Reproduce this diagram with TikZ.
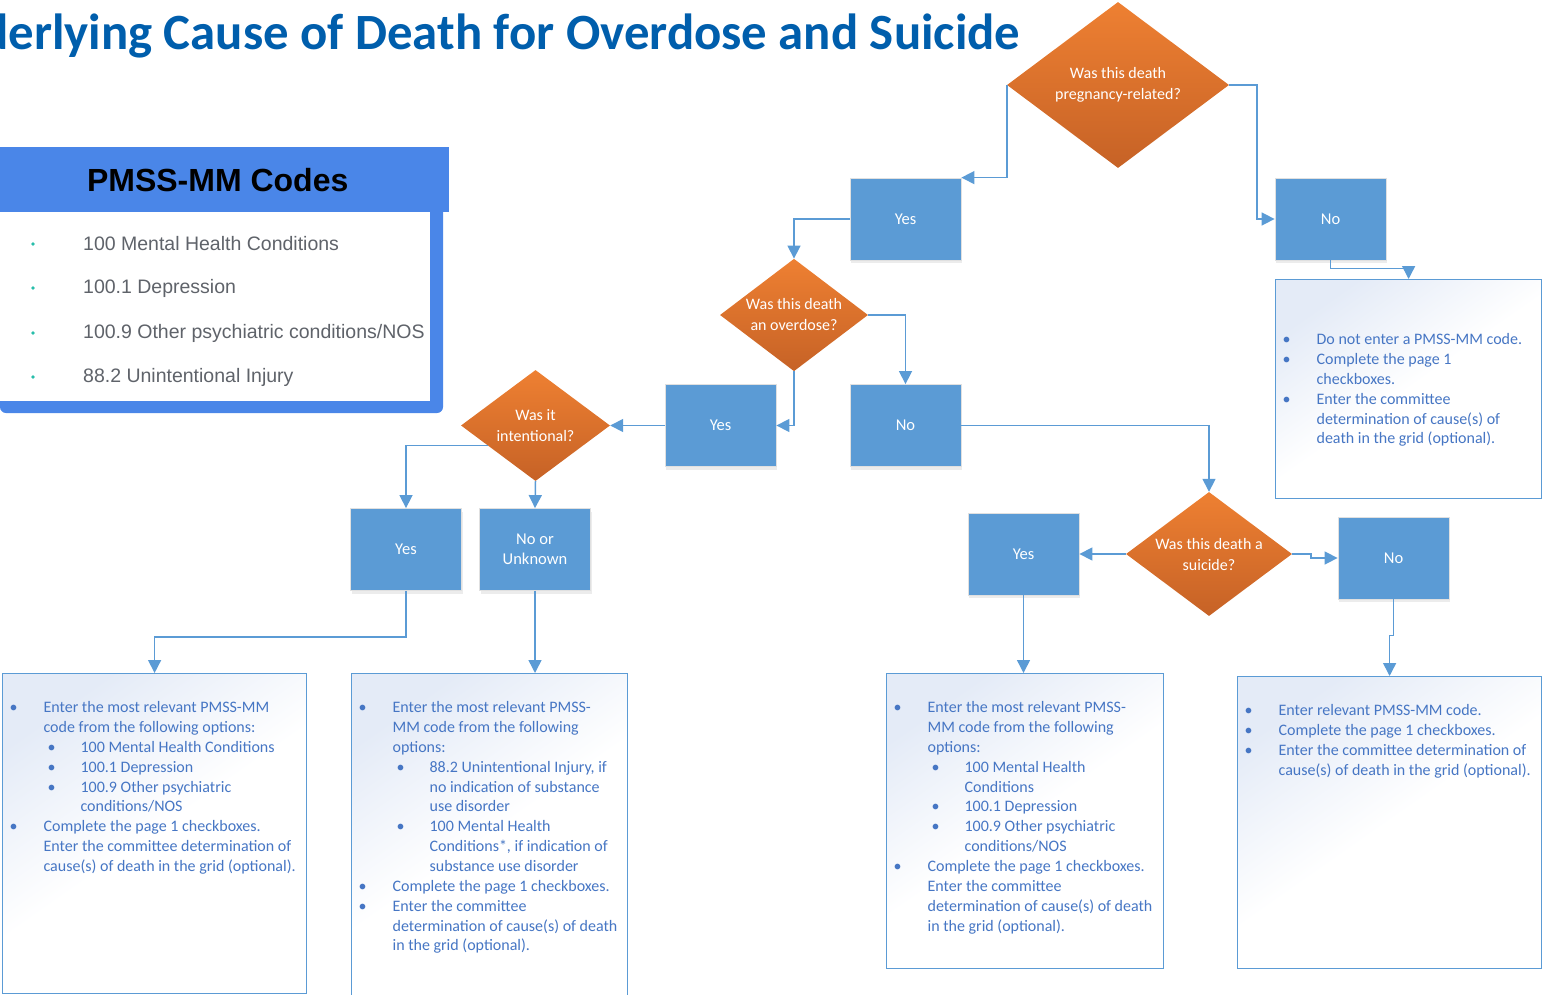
\documentclass[tikz,border=0pt]{standalone}
\usepackage{fontspec}
\setmainfont{Carlito}
\newfontfamily\arialfont{Liberation Sans}
\usetikzlibrary{shapes.geometric,arrows.meta,shadows,calc}

\definecolor{boxblue}{RGB}{91,155,213}
\definecolor{orangeA}{RGB}{238,128,50}
\definecolor{orangeB}{RGB}{198,98,38}
\definecolor{infotext}{RGB}{70,118,196}
\definecolor{infofill}{RGB}{228,235,247}
\definecolor{codesblue}{RGB}{74,134,232}
\definecolor{codesgray}{RGB}{95,99,106}
\definecolor{codesteal}{RGB}{40,190,170}
\definecolor{titleblue}{RGB}{0,94,172}

% lineas de las cajas de texto
\newcommand{\bul}[1]{\hbox to\hsize{\hspace*{7pt}\makebox[34pt][l]{\textbullet}#1\hss}}
\newcommand{\cont}[1]{\hbox to\hsize{\hspace*{41pt}#1\hss}}
\newcommand{\subbul}[1]{\hbox to\hsize{\hspace*{45pt}\makebox[33pt][l]{\textbullet}#1\hss}}
\newcommand{\subcont}[1]{\hbox to\hsize{\hspace*{78pt}#1\hss}}

\tikzset{
  answer/.style={rectangle, fill=boxblue, draw=black!12, line width=0.8pt,
    minimum width=111pt, minimum height=82pt, inner sep=0pt, text=white,
    align=center, font=\fontsize{16.5}{20}\selectfont,
    drop shadow={opacity=0.15, shadow xshift=1pt, shadow yshift=-3pt}},
  question/.style={diamond, top color=orangeA, bottom color=orangeB, inner sep=-4pt,
    text=white, align=center, font=\fontsize{16}{21}\selectfont},
  info/.style={rectangle, draw=boxblue, line width=1.2pt, top color=infofill,
    bottom color=white, middle color=white, shading angle=35, anchor=north west,
    inner sep=0pt, text=infotext, font=\fontsize{16}{19.85}\selectfont},
  link/.style={draw=boxblue, line width=1.5pt, -{Triangle[length=13pt,width=13pt]}}
}

\begin{document}
\begin{tikzpicture}[x=1pt, y=-1pt]
\useasboundingbox (0,0) rectangle (1544,995);

% Titulo
\begin{scope}
\clip (0,0) rectangle (1544,995);
\node [anchor=base west, inner sep=0pt, text=titleblue, font=\fontsize{50.8}{56}\selectfont\bfseries] (title) at (-19,50) {derlying Cause of Death for Overdose and Suicide};
\end{scope}

% Codigos
\fill [codesblue, rounded corners=6pt] (0,150) rectangle (443,413);
\fill [white] (0,212) rectangle (430,401);
\node [fill=codesblue, anchor=north west, minimum width=449pt, minimum height=65pt, inner sep=0pt, font=\arialfont\fontsize{32}{36}\selectfont\bfseries] (codes) at (0,147) {\hspace*{-14pt}PMSS-MM Codes};
\fill [codesteal] (33,244) circle (1.8);
\fill [codesteal] (33,288) circle (1.8);
\fill [codesteal] (33,333) circle (1.8);
\fill [codesteal] (33,377) circle (1.8);
\node [anchor=west, inner sep=0pt, text=codesgray, font=\arialfont\fontsize{19.5}{22}\selectfont] (code1) at (83,244) {100 Mental Health Conditions};
\node [anchor=west, inner sep=0pt, text=codesgray, font=\arialfont\fontsize{19.5}{22}\selectfont] (code2) at (83,288) {100.1 Depression};
\node [anchor=west, inner sep=0pt, text=codesgray, font=\arialfont\fontsize{19.5}{22}\selectfont] (code3) at (83,333) {100.9 Other psychiatric conditions/NOS};
\node [anchor=west, inner sep=0pt, text=codesgray, font=\arialfont\fontsize{19.5}{22}\selectfont] (code4) at (83,377) {88.2 Unintentional Injury};

% Nodos
% ---
% embarazo
% ---
\node [question, minimum width=222pt, minimum height=166pt] (preg) at (1118,85) {Was this death\\pregnancy-related?};
\node [answer] (yesPreg) at (905.5,219) {Yes};
\node [answer] (noPreg) at (1330.5,219) {No};
\node [info] (infoPreg) at (1275,279) {\parbox[c][219pt][t]{266pt}{\vspace*{54pt}%
\bul{Do not enter a PMSS-MM code.}
\bul{Complete the page 1}
\cont{checkboxes.}
\bul{Enter the committee}
\cont{determination of cause(s) of}
\cont{death in the grid (optional).}}};

% ---
% sobredosis
% ---
\node [question, minimum width=148pt, minimum height=110pt] (od) at (794,315) {Was this death\\an overdose?};
\node [answer] (yesOd) at (720.5,425.5) {Yes};
\node [answer] (noOd) at (905.5,425.5) {No};

% ---
% intencional
% ---
\node [question, minimum width=149pt, minimum height=111pt] (intent) at (535.5,425.5) {Was it\\intentional?};
\node [answer] (yesInt) at (406,549.5) {Yes};
\node [answer] (noInt) at (535,549.5) {No or\\Unknown};
\node [info] (infoYesInt) at (2,673) {\parbox[c][320pt][t]{304pt}{\vspace*{28pt}%
\bul{Enter the most relevant PMSS-MM}
\cont{code from the following options:}
\subbul{100 Mental Health Conditions}
\subbul{100.1 Depression}
\subbul{100.9 Other psychiatric}
\subcont{conditions/NOS}
\bul{Complete the page 1 checkboxes.}
\cont{Enter the committee determination of}
\cont{cause(s) of death in the grid (optional).}}};
\node [info] (infoNoInt) at (351,673) {\parbox[c][324pt][t]{276pt}{\vspace*{28pt}%
\bul{Enter the most relevant PMSS-}
\cont{MM code from the following}
\cont{options:}
\subbul{88.2 Unintentional Injury, if}
\subcont{no indication of substance}
\subcont{use disorder}
\subbul{100 Mental Health}
\subcont{Conditions*, if indication of}
\subcont{substance use disorder}
\bul{Complete the page 1 checkboxes.}
\bul{Enter the committee}
\cont{determination of cause(s) of death}
\cont{in the grid (optional).}}};

% ---
% suicidio
% ---
\node [question, minimum width=166pt, minimum height=124pt] (suic) at (1209,554) {Was this death a\\suicide?};
\node [answer] (yesSui) at (1023.5,554) {Yes};
\node [answer] (noSui) at (1393.5,558) {No};
\node [info] (infoYesSui) at (886,673) {\parbox[c][295pt][t]{277pt}{\vspace*{28pt}%
\bul{Enter the most relevant PMSS-}
\cont{MM code from the following}
\cont{options:}
\subbul{100 Mental Health}
\subcont{Conditions}
\subbul{100.1 Depression}
\subbul{100.9 Other psychiatric}
\subcont{conditions/NOS}
\bul{Complete the page 1 checkboxes.}
\cont{Enter the committee}
\cont{determination of cause(s) of death}
\cont{in the grid (optional).}}};
\node [info] (infoNoSui) at (1237,676) {\parbox[c][292pt][t]{304pt}{\vspace*{28pt}%
\bul{Enter relevant PMSS-MM code.}
\bul{Complete the page 1 checkboxes.}
\bul{Enter the committee determination of}
\cont{cause(s) of death in the grid (optional).}}};

% Flechas
\draw [link] (preg.west) |- (yesPreg.north east);
\draw [link] (preg.east) -- ++(28,0) |- (noPreg.west);
\draw [link] (noPreg.south) -- ++(0,8) -| (infoPreg.north);

\draw [link] (yesPreg.west) -| (od.north);
\draw [link] (od.east) -| (noOd.north);
\draw [link] (od.south) |- (yesOd.east);
\draw [link] (yesOd.west) -- (intent.east);

\draw [link] ($(intent.west)!0.36!(intent.south)$) -| (yesInt.north);
\draw [link] (intent.south) -- (noInt.north);
\draw [link] (yesInt.south) -- ++(0,46) -| (infoYesInt.north);
\draw [link] (noInt.south) -- (noInt.south |- infoNoInt.north);

\draw [link] (noOd.east) -| (suic.north);
\draw [link] (suic.west) -- (yesSui.east);
\draw [link] (suic.east) -- ++(19,0) |- (noSui.west);
\draw [link] (yesSui.south) -- (yesSui.south |- infoYesSui.north);
\draw [link] (noSui.south) -- ++(0,36) -| (infoNoSui.north);
\end{tikzpicture}
\end{document}
